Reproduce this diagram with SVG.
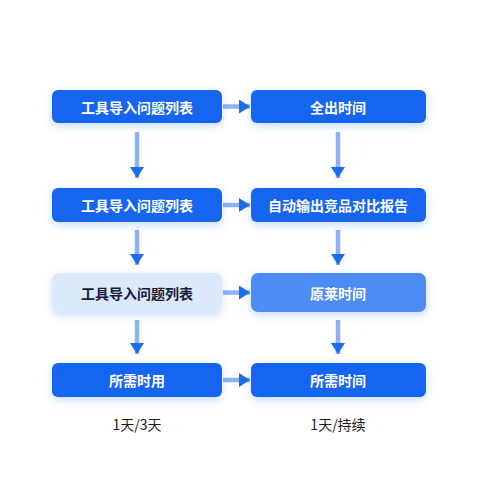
<svg xmlns="http://www.w3.org/2000/svg" width="480" height="480" viewBox="0 0 480 480">
  <defs>
    <filter id="sh" x="-20%" y="-40%" width="140%" height="190%">
      <feDropShadow dx="0" dy="3" stdDeviation="4" flood-color="#1565f0" flood-opacity="0.22"/>
    </filter>
    <marker id="ah" viewBox="0 0 11 14" refX="11" refY="7" markerWidth="11" markerHeight="14" markerUnits="userSpaceOnUse" orient="auto">
      <path d="M0,0 L11,7 L0,14 Z" fill="#1d6cf0"/>
    </marker>
    <style>
      .box{fill:#1565f0;filter:url(#sh)}
      .light{fill:#dce8fb;filter:url(#sh)}
      .mid{fill:#4b8cf5;filter:url(#sh)}
      .t{font-family:"Noto Sans CJK SC","Noto Sans",sans-serif;font-size:14px;font-weight:600;fill:#ffffff;text-anchor:middle;dominant-baseline:central}
      .td{fill:#16203a}
      .lab{font-family:"Noto Sans CJK SC","Noto Sans",sans-serif;font-size:14px;font-weight:400;fill:#1a1a1a;text-anchor:middle;dominant-baseline:central}
      .c{stroke:#8db3f5;stroke-width:4.5;fill:none;marker-end:url(#ah)}
    </style>
  </defs>
  <rect width="480" height="480" fill="#ffffff"/>
  <g id="connectors">
    <line class="c" x1="223" y1="106.5" x2="250" y2="106.5"/>
    <line class="c" x1="223" y1="205" x2="250" y2="205"/>
    <line class="c" x1="223" y1="292.5" x2="250" y2="292.5"/>
    <line class="c" x1="223" y1="380" x2="250" y2="380"/>
    <line class="c" x1="137" y1="132" x2="137" y2="178"/>
    <line class="c" x1="338" y1="132" x2="338" y2="178"/>
    <line class="c" x1="137" y1="230" x2="137" y2="265"/>
    <line class="c" x1="338" y1="230" x2="338" y2="265"/>
    <line class="c" x1="137" y1="320" x2="137" y2="354"/>
    <line class="c" x1="338" y1="320" x2="338" y2="354"/>
  </g>
  <g id="n1"><rect class="box" x="52" y="90" width="170" height="33" rx="6"/><text class="t" x="137" y="106.5">工具导入问题列表</text></g>
  <g id="n2"><rect class="box" x="251" y="90" width="175" height="33" rx="6"/><text class="t" x="338" y="106.5">全出时间</text></g>
  <g id="n3"><rect class="box" x="52" y="188" width="170" height="34" rx="6"/><text class="t" x="137" y="205">工具导入问题列表</text></g>
  <g id="n4"><rect class="box" x="251" y="188" width="175" height="34" rx="6"/><text class="t" x="338" y="205">自动输出竞品对比报告</text></g>
  <g id="n5"><rect class="light" x="52" y="273" width="170" height="39" rx="7"/><text class="t td" x="137" y="292.5">工具导入问题列表</text></g>
  <g id="n6"><rect class="mid" x="251" y="273" width="175" height="39" rx="7"/><text class="t" x="338" y="292.5">原莱时间</text></g>
  <g id="n7"><rect class="box" x="52" y="363" width="170" height="34" rx="6"/><text class="t" x="137" y="380">所需时用</text></g>
  <g id="n8"><rect class="box" x="251" y="363" width="175" height="34" rx="6"/><text class="t" x="338" y="380">所需时间</text></g>
  <text class="lab" x="137" y="424">1天/3天</text>
  <text class="lab" x="338" y="424">1天/持续</text>
</svg>
